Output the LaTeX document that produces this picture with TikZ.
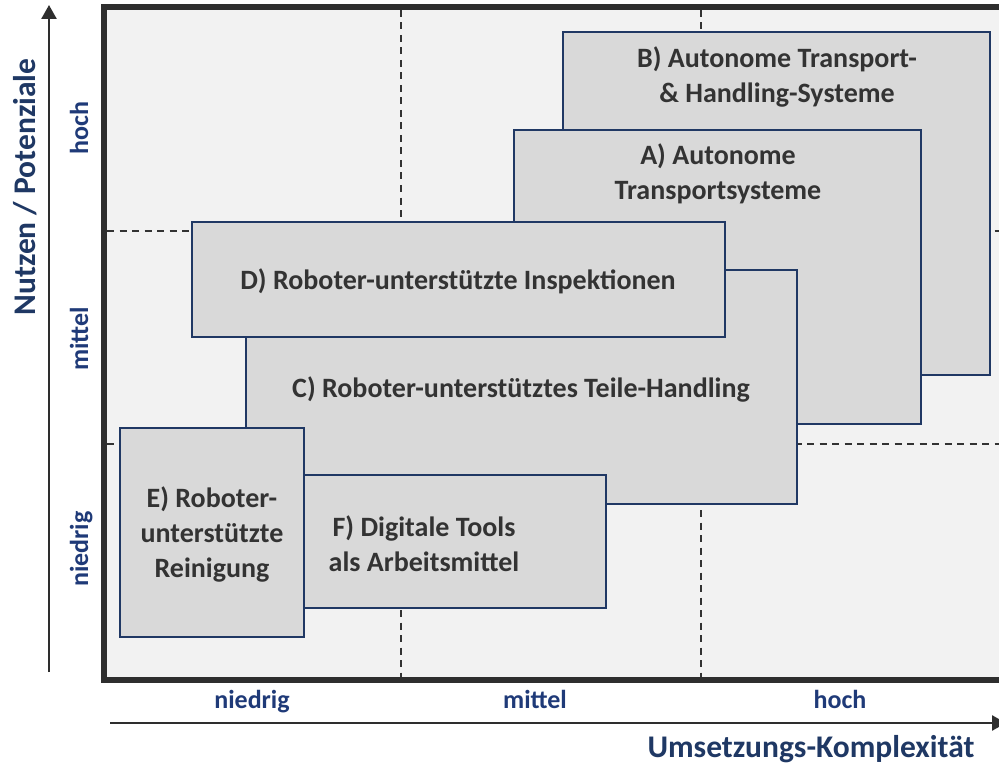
\documentclass[tikz,border=0pt]{standalone}
\usepackage{fontspec}
\setmainfont{Carlito}
\usetikzlibrary{arrows.meta}
\definecolor{navy}{HTML}{1F3864}
\definecolor{ticknavy}{HTML}{1F3A78}
\definecolor{boxline}{HTML}{203864}
\definecolor{boxfill}{HTML}{D9D9D9}
\definecolor{bgfill}{HTML}{F2F2F2}
\definecolor{frameline}{HTML}{2E2E2E}
\definecolor{dashline}{HTML}{333333}
\definecolor{boxtext}{HTML}{333333}
\begin{document}
\begin{tikzpicture}[x=1pt,y=-1pt,
  box/.style={draw=boxline, line width=1.5pt, fill=boxfill, rectangle, inner sep=0pt, outer sep=0pt, anchor=north west},
  boxlabel/.style={text=boxtext, font=\fontsize{28}{35}\selectfont\bfseries, align=center, inner sep=0pt},
  ticklabel/.style={text=ticknavy, font=\fontsize{26}{31}\selectfont\bfseries, anchor=base, inner sep=0pt},
  axtitle/.style={text=navy, font=\fontsize{31.5}{37}\selectfont\bfseries, anchor=base, inner sep=0pt},
  gridline/.style={draw=dashline, line width=1.8pt, dash pattern=on 7pt off 5.5pt},
  axisarrow/.style={draw=frameline, line width=2.5pt, -{Triangle[length=14pt,width=15pt]}}]
\path[use as bounding box] (0,0) rectangle (999,765);
\clip (0,0) rectangle (999,765);
\fill[white] (0,0) rectangle (999,765);
% plot area
\fill[bgfill] (104,7) rectangle (1010,680);
% grid
\coordinate (v1t) at (401,10);  \coordinate (v1b) at (401,683);
\coordinate (v2t) at (701,10);  \coordinate (v2b) at (701,683);
\coordinate (h1l) at (107,231); \coordinate (h1r) at (1005,231);
\coordinate (h2l) at (107,444); \coordinate (h2r) at (1005,444);
\draw[gridline] (v1t) -- (v1b);
\draw[gridline] (v2t) -- (v2b);
\draw[gridline] (h1l) -- (h1r);
\draw[gridline] (h2l) -- (h2r);
% boxes
\node[box, minimum width=427pt, minimum height=343pt] (boxB) at (563,32) {};
\node[box, minimum width=407pt, minimum height=294pt] (boxA) at (514,130) {};
\node[box, minimum width=551pt, minimum height=234pt] (boxC) at (246,270) {};
\node[box, minimum width=533pt, minimum height=115pt] (boxD) at (192,222) {};
\node[box, minimum width=302pt, minimum height=133pt] (boxF) at (304,475) {};
\node[box, minimum width=184pt, minimum height=209pt] (boxE) at (120,428) {};
% box texts
\node[boxlabel] (txtB) at (777,77) {B) Autonome Transport-\\\& Handling-Systeme};
\node[boxlabel] (txtA) at (718,174) {A) Autonome\\Transportsysteme};
\node[boxlabel] (txtD) at (458,281) {D) Roboter-unterstützte Inspektionen};
\node[boxlabel] (txtC) at (521,389) {C) Roboter-unterstütztes Teile-Handling};
\node[boxlabel] (txtE) at (212,534) {E) Roboter-\\unterstützte\\Reinigung};
\node[boxlabel] (txtF) at (424,544) {F) Digitale Tools\\als Arbeitsmittel};
% frame
\draw[frameline, line width=6pt] (104,7) rectangle (1010,680);
% tick labels
\node[ticklabel] (xlow) at (252,708) {niedrig};
\node[ticklabel] (xmid) at (535,708) {mittel};
\node[ticklabel] (xhigh) at (840,708) {hoch};
\node[ticklabel, rotate=90] (ylow) at (88,549) {niedrig};
\node[ticklabel, rotate=90] (ymid) at (88,339) {mittel};
\node[ticklabel, rotate=90] (yhigh) at (88,128) {hoch};
% axes
\coordinate (ya0) at (49,672); \coordinate (ya1) at (49,5);
\coordinate (xa0) at (110,723); \coordinate (xa1) at (1006,723);
\draw[axisarrow] (ya0) -- (ya1);
\draw[axisarrow] (xa0) -- (xa1);
\node[axtitle, rotate=90] (ytitle) at (35,187) {Nutzen / Potenziale};
\node[axtitle] (xtitle) at (811,757) {Umsetzungs-Komplexität};
\end{tikzpicture}
\end{document}
